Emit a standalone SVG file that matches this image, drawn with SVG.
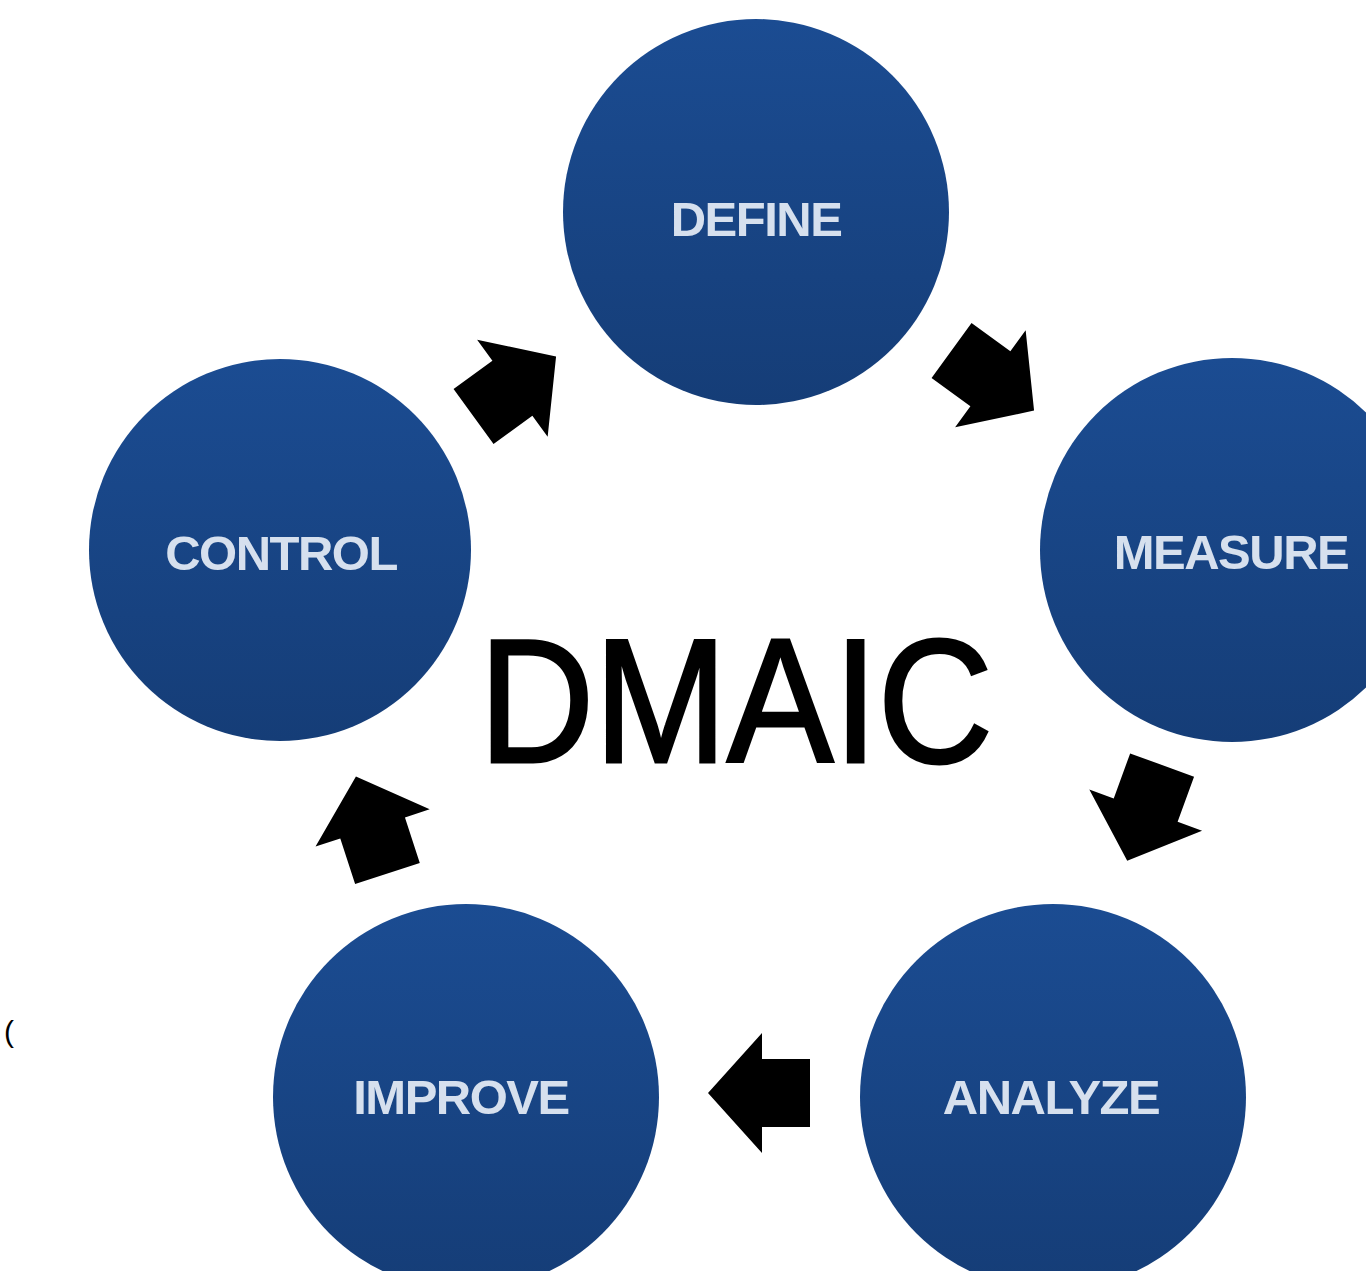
<svg xmlns="http://www.w3.org/2000/svg" width="1366" height="1271" viewBox="0 0 1366 1271">
<defs>
<linearGradient id="g" x1="0" y1="0" x2="0" y2="1">
<stop offset="0" stop-color="#1b4c92"/>
<stop offset="1" stop-color="#153d77"/>
</linearGradient>
<polygon id="arr" points="-50,-34 -2,-34 -2,-60 52,0 -2,60 -2,34 -50,34"/>
</defs>
<style>
.c{fill:url(#g)}
.t{font-family:"Liberation Sans",Arial,sans-serif;font-weight:bold;font-size:49px;fill:#d6e0ee;text-anchor:middle;letter-spacing:-1.5px}
.a{fill:#000}
</style>
<rect width="1366" height="1271" fill="#ffffff"/>
<g id="define"><circle class="c" cx="756" cy="212" r="193"/><text class="t" x="756" y="236">DEFINE</text></g>
<g id="measure"><circle class="c" cx="1232" cy="550" r="192"/><text class="t" x="1231" y="569">MEASURE</text></g>
<g id="analyze"><circle class="c" cx="1053" cy="1097" r="193"/><text class="t" x="1051" y="1114">ANALYZE</text></g>
<g id="improve"><circle class="c" cx="466" cy="1097" r="193"/><text class="t" x="461" y="1114">IMPROVE</text></g>
<g id="control"><circle class="c" cx="280" cy="550" r="191"/><text class="t" x="281" y="570">CONTROL</text></g>
<g id="center"><text x="736" y="762" font-family="Liberation Sans,Arial,sans-serif" font-size="176" text-anchor="middle" textLength="514" lengthAdjust="spacingAndGlyphs" fill="#000" stroke="#000" stroke-width="3">DMAIC</text></g>
<g id="connectors">
<use href="#arr" class="a" transform="translate(514,387) rotate(-36)"/>
<use href="#arr" class="a" transform="translate(992,380) rotate(36)"/>
<use href="#arr" class="a" transform="translate(1145,812) rotate(110)"/>
<use href="#arr" class="a" transform="translate(372,826) rotate(-108)"/>
<use href="#arr" class="a" transform="translate(760,1093) rotate(180)"/>
</g>
<text x="4" y="1042" font-family="Liberation Sans,Arial,sans-serif" font-size="30" fill="#000">(</text>
</svg>
